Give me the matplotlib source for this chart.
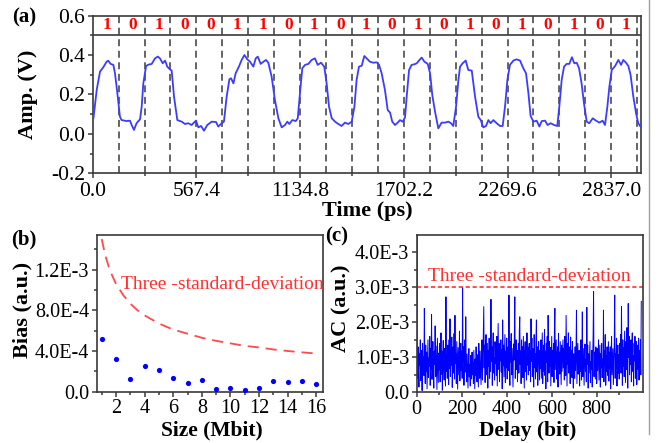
import numpy as np
import matplotlib
matplotlib.use("Agg")
import matplotlib.pyplot as plt
from matplotlib.lines import Line2D

plt.rcParams['font.family'] = ['Liberation Serif', 'DejaVu Serif']
plt.rcParams['lines.scale_dashes'] = False

# ---------------- data ----------------
# (a) waveform
time_ps = [0, 4, 22, 40, 58, 76, 85, 98, 113, 122,
           135, 149, 158, 186, 204, 213, 226, 240, 259, 268,
           277, 292, 304, 323, 341, 356, 368, 383, 396, 408,
           423, 432, 445, 463, 487, 505, 523, 541, 565, 578,
           593, 609, 627, 651, 675, 687, 706, 718, 733, 748,
           757, 770, 782, 800, 815, 830, 846, 861, 879, 892,
           903, 919, 934, 948, 961, 979, 997, 1016, 1034, 1052,
           1065, 1076, 1092, 1111, 1122, 1134, 1147, 1162, 1180, 1198,
           1216, 1231, 1249, 1267, 1280, 1293, 1308, 1326, 1344, 1362,
           1380, 1399, 1417, 1432, 1444, 1457, 1472, 1486, 1499, 1517,
           1535, 1554, 1567, 1581, 1599, 1614, 1627, 1639, 1654, 1669,
           1681, 1696, 1709, 1718, 1731, 1745, 1760, 1773, 1785, 1800,
           1815, 1833, 1846, 1858, 1873, 1891, 1909, 1928, 1946, 1960,
           1973, 1988, 2001, 2010, 2024, 2041, 2055, 2074, 2092, 2110,
           2123, 2137, 2152, 2165, 2177, 2192, 2210, 2229, 2243, 2256,
           2269, 2283, 2302, 2320, 2338, 2356, 2371, 2384, 2396, 2411,
           2429, 2444, 2457, 2475, 2489, 2506, 2524, 2542, 2553, 2566,
           2579, 2593, 2608, 2622, 2635, 2648, 2661, 2675, 2688, 2703,
           2717, 2736, 2754, 2772, 2790, 2803, 2816, 2827, 2840, 2858,
           2876, 2891, 2903, 2918, 2931, 2943, 2958, 2973, 2985, 3000]
amp_v = [0.075, 0.079, 0.223, 0.316, 0.338, 0.366, 0.371, 0.355, 0.350, 0.307,
         0.206, 0.087, 0.070, 0.065, 0.067, 0.045, 0.020, 0.054, 0.074, 0.138,
         0.256, 0.344, 0.351, 0.355, 0.383, 0.392, 0.383, 0.358, 0.372, 0.341,
         0.327, 0.321, 0.189, 0.070, 0.062, 0.050, 0.054, 0.045, 0.067, 0.033,
         0.040, 0.016, 0.045, 0.062, 0.060, 0.037, 0.054, 0.062, 0.189, 0.277,
         0.282, 0.256, 0.307, 0.341, 0.375, 0.400, 0.378, 0.366, 0.341, 0.383,
         0.392, 0.355, 0.366, 0.375, 0.361, 0.290, 0.172, 0.079, 0.033, 0.045,
         0.062, 0.050, 0.070, 0.065, 0.079, 0.206, 0.333, 0.350, 0.355, 0.375,
         0.383, 0.350, 0.361, 0.341, 0.256, 0.138, 0.079, 0.062, 0.050, 0.040,
         0.057, 0.050, 0.062, 0.138, 0.274, 0.341, 0.346, 0.395, 0.383, 0.366,
         0.361, 0.363, 0.350, 0.307, 0.223, 0.121, 0.108, 0.062, 0.045, 0.057,
         0.070, 0.062, 0.084, 0.189, 0.324, 0.350, 0.353, 0.358, 0.372, 0.387,
         0.366, 0.355, 0.307, 0.197, 0.113, 0.028, 0.057, 0.057, 0.062, 0.054,
         0.040, 0.138, 0.274, 0.341, 0.358, 0.372, 0.324, 0.321, 0.189, 0.087,
         0.070, 0.033, 0.040, 0.070, 0.054, 0.070, 0.054, 0.040, 0.040, 0.138,
         0.274, 0.350, 0.372, 0.378, 0.372, 0.333, 0.307, 0.206, 0.091, 0.062,
         0.067, 0.037, 0.065, 0.067, 0.045, 0.054, 0.045, 0.040, 0.138, 0.274,
         0.341, 0.355, 0.355, 0.389, 0.358, 0.361, 0.333, 0.256, 0.155, 0.062,
         0.054, 0.079, 0.067, 0.057, 0.067, 0.045, 0.138, 0.240, 0.324, 0.344,
         0.375, 0.350, 0.375, 0.361, 0.344, 0.299, 0.189, 0.104, 0.054, 0.033]
bits = ['1', '0', '1', '0', '0', '1', '1', '0', '1', '0', '1',
        '0', '1', '0', '1', '0', '1', '0', '1', '0', '1']
bit_period_ps = 141.85
a_xticks = [0.0, 567.4, 1134.8, 1702.2, 2269.6, 2837.0]
a_xticklabels = ['0.0', '567.4', '1134.8', '1702.2', '2269.6', '2837.0']
a_yticks = [-0.2, 0.0, 0.2, 0.4, 0.6]
a_yticklabels = ['-0.2', '0.0', '0.2', '0.4', '0.6']

# (b) bias vs size
size_mbit = list(range(1, 17))
bias = [5.15e-4, 3.2e-4, 1.2e-4, 2.5e-4, 2.15e-4, 1.3e-4, 0.9e-4, 1.15e-4,
        0.3e-4, 0.35e-4, 0.15e-4, 0.35e-4, 1.1e-4, 1.0e-4, 1.08e-4, 0.75e-4]
sd3_size = [1, 1.25, 1.5, 1.75, 2, 2.5, 3, 3.5, 4, 5, 6, 7, 8, 9, 10, 11, 12, 13, 14, 15, 16]
sd3_bias = [1.50e-3, 1.34e-3, 1.225e-3, 1.135e-3, 1.06e-3, 0.95e-3, 0.865e-3, 0.80e-3,
            0.75e-3, 0.67e-3, 0.61e-3, 0.57e-3, 0.53e-3, 0.50e-3, 0.475e-3, 0.45e-3,
            0.435e-3, 0.415e-3, 0.40e-3, 0.387e-3, 0.375e-3]
b_yticks = [0.0, 4.0e-4, 8.0e-4, 1.2e-3]
b_yticklabels = ['0.0', '4.0E-4', '8.0E-4', '1.2E-3']
b_xticks = [2, 4, 6, 8, 10, 12, 14, 16]

# (c) autocorrelation vs delay (units of 1e-5), delays 0,2,4,...,998
ac_e5 = [
    100000, 95, 40, 130, 62, 15, 110, 78, 150, 33, 88, 120, 5, 140, 70, 101, 48, 240, 92, 25, 135, 60, 115, 10, 85,
    150, 42, 98, 75, 160, 20, 125, 66, 223, 37, 104, 145, 58, 12, 118, 80, 190, 45, 132, 70, 8, 155, 96, 28, 112,
    64, 140, 30, 90, 170, 52, 118, 6, 100, 148, 72, 35, 126, 84, 18, 273, 60, 107, 40, 135, 88, 22, 150, 68, 210,
    45, 120, 78, 158, 14, 95, 130, 55, 168, 38, 220, 82, 110, 25, 145, 70, 9, 128, 92, 50, 175, 33, 104, 140, 62,
    118, 40, 300, 86, 130, 20, 95, 150, 58, 216, 74, 30, 110, 62, 12, 90, 125, 44, 80, 18, 105, 66, 38, 115, 50,
    85, 25, 120, 60, 10, 95, 48, 130, 72, 30, 108, 55, 15, 140, 82, 40, 118, 65, 22, 100, 150, 35, 78, 160, 245,
    70, 135, 28, 110, 165, 50, 92, 140, 12, 120, 75, 155, 40, 100, 60, 266, 88, 130, 20, 115, 170, 55, 98, 35, 145,
    82, 125, 48, 160, 18, 105, 197, 66, 140, 30, 112, 90, 150, 58, 122, 10, 207, 76, 135, 44, 100, 165, 28, 118, 70,
    155, 38, 96, 130, 62, 278, 110, 20, 145, 85, 168, 50, 125, 72, 15, 138, 92, 160, 273, 40, 105, 150, 65, 120, 30,
    98, 140, 55, 175, 216, 80, 118, 25, 150, 68, 130, 42, 160, 90, 12, 112, 145, 60, 100, 35, 170, 78, 128, 50, 108,
    140, 62, 118, 30, 210, 88, 155, 45, 125, 95, 15, 165, 72, 110, 38, 150, 207, 58, 130, 20, 100, 145, 80, 35, 120,
    68, 150, 40, 112, 170, 25, 95, 135, 60, 180, 48, 118, 10, 140, 85, 160, 30, 220, 105, 55, 145, 75, 128, 18, 98,
    160, 45, 120, 82, 140, 28, 175, 240, 65, 110, 150, 38, 95, 130, 15, 168, 78, 115, 52, 145, 90, 22, 135, 60, 105,
    150, 70, 125, 35, 160, 92, 48, 220, 115, 18, 140, 80, 170, 55, 100, 130, 25, 158, 66, 120, 42, 145, 88, 12, 110,
    95, 40, 130, 62, 110, 235, 25, 88, 140, 52, 75, 120, 18, 100, 60, 150, 35, 85, 230, 45, 125, 70, 20, 105, 138,
    60, 95, 30, 243, 80, 135, 12, 110, 55, 100, 145, 28, 88, 65, 120, 15, 98, 160, 288, 45, 115, 75, 38, 130, 90,
    25, 125, 62, 100, 150, 35, 85, 135, 15, 110, 70, 140, 42, 95, 55, 235, 30, 120, 78, 165, 20, 105, 60, 130, 48,
    92, 145, 32, 115, 68, 130, 10, 100, 160, 50, 88, 125, 22, 80, 140, 278, 40, 110, 70, 155, 18, 98, 135, 55, 108,
    38, 140, 85, 165, 55, 245, 110, 20, 150, 75, 128, 45, 175, 95, 28, 145, 65, 185, 118, 12, 254, 100, 160, 50, 135,
    80, 150, 30, 125, 170, 60, 105, 18, 140, 90, 160, 40, 115, 145, 22, 100, 135, 65, 155, 35, 120, 85, 150, 50, 260,
]
delay_bit = np.arange(0, 2 * len(ac_e5), 2)
ac = np.array(ac_e5) * 1e-5
sd3_ac = 3.0e-3
c_yticks = [0.0, 1.0e-3, 2.0e-3, 3.0e-3, 4.0e-3]
c_yticklabels = ['0.0', '1.0E-3', '2.0E-3', '3.0E-3', '4.0E-3']
c_xticks = [0, 200, 400, 600, 800]

# ---------------- figure ----------------
W, H = 662, 443
fig = plt.figure(figsize=(W / 100, H / 100), dpi=100)
fig.patch.set_facecolor('white')

def px_axes(l, t, r, b):
    return fig.add_axes([l / W, 1 - b / H, (r - l) / W, (b - t) / H])

SPINE = '#3a3a3a'
TICKFS_A = 15.5
TICKFS = 14.5
LABFS = 15.5

def style(ax, fs):
    for s in ax.spines.values():
        s.set_color(SPINE)
        s.set_linewidth(1.2)
    ax.tick_params(which='both', direction='out', color=SPINE, width=1.1,
                   labelsize=fs, top=False, right=False)
    ax.tick_params(which='major', length=3.5, pad=2)
    ax.tick_params(which='minor', length=2)

# ---- (a)
axa = px_axes(92.7, 15.6, 641, 173.3)
style(axa, TICKFS_A)
axa.plot(time_ps, amp_v, color='#3c3cff', lw=1.3, zorder=3)
for k in range(1, len(bits) + 1):
    axa.axvline(k * bit_period_ps, color='#4a4a4a', lw=1.2, dashes=(5, 3.3), zorder=2)
axa.axhline(0.5, color=SPINE, lw=1.2, zorder=2)
for k, b in enumerate(bits):
    axa.text((k + 0.55) * bit_period_ps, 0.551, b, color='#ff0000', fontsize=12.5,
             fontweight='bold', ha='center', va='center', zorder=4)
axa.set_xlim(0, 3000)
axa.set_ylim(-0.2, 0.6)
axa.set_xticks(a_xticks)
axa.set_xticklabels(a_xticklabels)
axa.set_xticks(np.arange(283.7, 3000, 567.4), minor=True)
axa.set_yticks(a_yticks)
axa.set_yticklabels(a_yticklabels)
axa.set_yticks([-0.1, 0.1, 0.3, 0.5], minor=True)
axa.tick_params(axis='x', pad=3)
axa.set_xlabel('Time (ps)', fontsize=16, fontweight='bold')
axa.set_ylabel('Amp. (V)', fontsize=16, fontweight='bold')
axa.xaxis.set_label_coords(0.5, -0.24)
axa.xaxis.label.set_va('center')
axa.yaxis.set_label_coords(-0.118, 0.5)
axa.yaxis.label.set_va('center')

# ---- (b)
axb = px_axes(96.7, 235, 322.7, 391.7)
style(axb, TICKFS)
axb.plot(sd3_size, sd3_bias, color='#ff4a4a', lw=1.3, dashes=(8, 5))
axb.scatter(size_mbit, bias, s=14, color='#0000ff', zorder=3, linewidths=0)
axb.text(2.35, 1.05e-3, 'Three -standard-deviation', color='#ff3030', fontsize=14,
         ha='left', va='center')
axb.set_xlim(0.65, 16.45)
axb.set_ylim(0, 1.54e-3)
axb.set_xticks(b_xticks)
axb.set_xticks(range(1, 17, 2), minor=True)
axb.set_yticks(b_yticks)
axb.set_yticklabels(b_yticklabels)
axb.set_yticks([2e-4, 6e-4, 1.0e-3, 1.4e-3], minor=True)
axb.tick_params(axis='x', pad=2)
axb.set_xlabel('Size (Mbit)', fontsize=LABFS, fontweight='bold')
axb.set_ylabel('Bias (a.u.)', fontsize=16, fontweight='bold')
axb.xaxis.set_label_coords(0.51, -0.245)
axb.xaxis.label.set_va('center')
axb.yaxis.set_label_coords(-0.33, 0.52)
axb.yaxis.label.set_va('center')

# ---- (c)
axc = px_axes(416.7, 235, 643.3, 392.3)
style(axc, TICKFS)
axc.plot(delay_bit, ac, color='#0000ff', lw=0.7)
axc.axhline(sd3_ac, color='#ff3030', lw=1.2, dashes=(3, 2))
axc.text(50, 3.3e-3, 'Three -standard-deviation', color='#ff3030', fontsize=14,
         ha='left', va='center')
axc.set_xlim(0, 1007)
axc.set_ylim(0, 4.5e-3)
axc.set_xticks(c_xticks)
axc.set_xticks(range(100, 1000, 200), minor=True)
axc.set_yticks(c_yticks)
axc.set_yticklabels(c_yticklabels)
axc.set_yticks([0.5e-3, 1.5e-3, 2.5e-3, 3.5e-3], minor=True)
axc.tick_params(axis='x', pad=2)
axc.set_xlabel('Delay (bit)', fontsize=LABFS, fontweight='bold')
axc.set_ylabel('AC (a.u.)', fontsize=16, fontweight='bold')
axc.xaxis.set_label_coords(0.49, -0.247)
axc.xaxis.label.set_va('center')
axc.yaxis.set_label_coords(-0.33, 0.536)
axc.yaxis.label.set_va('center')

# panel letters
fig.text(24 / W, 1 - 17 / H, '(a)', fontsize=15, fontweight='bold', ha='center', va='center')
fig.text(24 / W, 1 - 239 / H, '(b)', fontsize=15, fontweight='bold', ha='center', va='center')
fig.text(337 / W, 1 - 236 / H, '(c)', fontsize=15, fontweight='bold', ha='center', va='center')

# thin border line at right side of the image
fig.add_artist(Line2D([648.5 / W, 648.5 / W], [0.02, 1.0], color='#a0a0a0', lw=1.0))

fig.savefig('out.png', dpi=100, facecolor='white')
